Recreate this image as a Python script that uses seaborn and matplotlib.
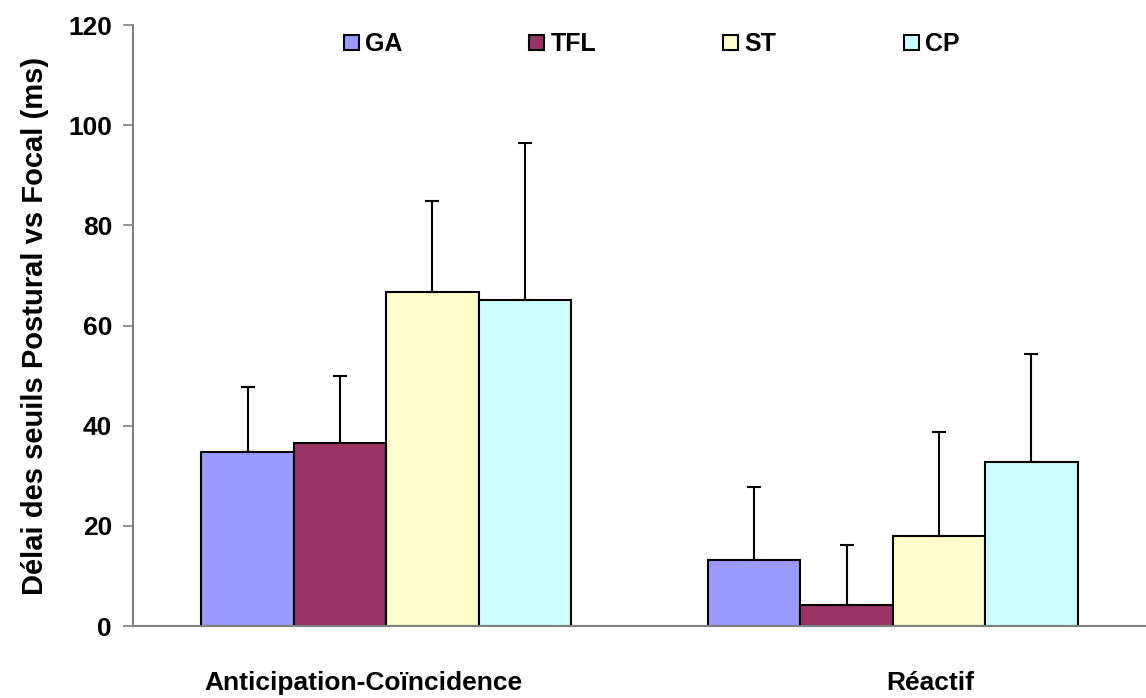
import pandas as pd
import matplotlib.pyplot as plt
import matplotlib.transforms as mtransforms
import seaborn as sns

conditions = ["Anticipation-Coïncidence", "Réactif"]
muscles = ["GA", "TFL", "ST", "CP"]
mean_anticipation = [34.8, 36.5, 66.8, 65.1]
sd_anticipation = [13.0, 13.4, 18.1, 31.3]
mean_reactif = [13.2, 4.2, 18.0, 32.8]
sd_reactif = [14.5, 11.9, 20.8, 21.6]
colors = ["#9999FF", "#993366", "#FFFFCC", "#CCFFFF"]
y_ticks = [0, 20, 40, 60, 80, 100, 120]

df = pd.DataFrame({
    "condition": [conditions[0]] * 4 + [conditions[1]] * 4,
    "muscle": muscles * 2,
    "delay": mean_anticipation + mean_reactif,
    "sd": sd_anticipation + sd_reactif,
})

sns.set_theme(style="white")
plt.rcParams["font.family"] = ["Liberation Sans", "DejaVu Sans"]
plt.rcParams["font.weight"] = "bold"
plt.rcParams["text.color"] = "black"
plt.rcParams["axes.labelcolor"] = "black"

fig = plt.figure(figsize=(11.46, 6.98), dpi=100)
ax = fig.add_axes([0.116, 0.103, 0.884, 0.861])

sns.barplot(data=df, x="condition", y="delay", hue="muscle", order=conditions,
            hue_order=muscles, palette=colors, saturation=1, width=0.73, gap=0,
            edgecolor="black", linewidth=1.5, errorbar=None, ax=ax)

# upward-only error bars at the centre of each bar
for container, muscle in zip(ax.containers, muscles):
    sub = df[df["muscle"] == muscle].set_index("condition").loc[conditions]
    xs = [b.get_x() + b.get_width() / 2 for b in container]
    ax.errorbar(xs, sub["delay"], yerr=[[0] * len(xs), sub["sd"]], fmt="none",
                ecolor="black", elinewidth=1.5, capsize=5, capthick=1.5, zorder=3)

ax.set_xlim(-0.5, 1.5)
ax.set_ylim(0, 120)
ax.set_yticks(y_ticks)
ax.set_yticklabels([str(t) for t in y_ticks], fontsize=19, fontweight="bold")
ax.set_xticks([0, 1])
ax.set_xticklabels(conditions, fontsize=19, fontweight="bold")
ax.set_xticks([0.5], minor=True)
ax.tick_params(axis="x", which="major", length=0, pad=32, labelcolor="black")
ax.tick_params(axis="x", which="minor", length=7, width=1.2, color="#808080", direction="out")
ax.tick_params(axis="y", length=7, width=1.2, color="#808080", direction="out", pad=8,
               left=True, labelcolor="black")

# the category labels sit a little off the group centres in the original
for lbl, dx in zip(ax.get_xticklabels(), [-23, 38]):
    lbl.set_transform(lbl.get_transform() + mtransforms.ScaledTranslation(dx / 100, 0, fig.dpi_scale_trans))

ax.set_xlabel("")
ax.set_ylabel("Délai des seuils Postural vs Focal (ms)", fontsize=21, fontweight="bold", labelpad=14)

for side in ["top", "right"]:
    ax.spines[side].set_visible(False)
for side in ["left", "bottom"]:
    ax.spines[side].set_color("#808080")
    ax.spines[side].set_linewidth(1.5)

handles, labels = ax.get_legend_handles_labels()
ax.legend(handles, labels, ncol=4, frameon=False, loc="center",
          bbox_to_anchor=(0.512, 0.968), prop={"weight": "bold", "size": 18},
          handlelength=0.6, handleheight=0.6, handletextpad=0.25, columnspacing=5.08)

fig.savefig("out.png", dpi=100)
